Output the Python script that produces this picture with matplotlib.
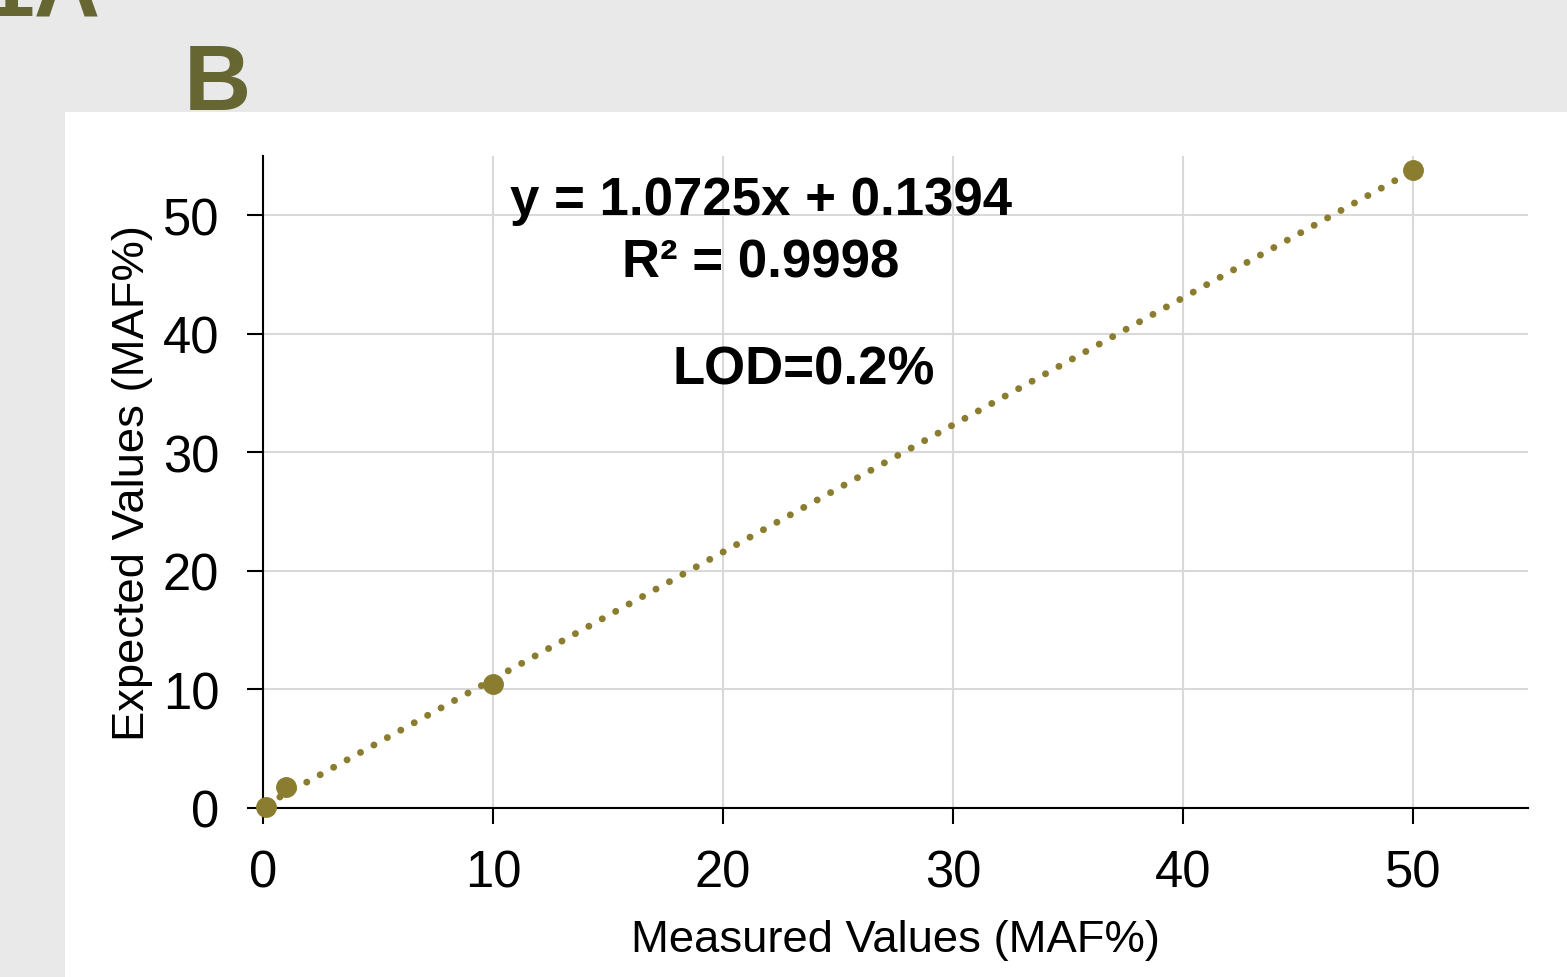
#!/usr/bin/env python3
"""Measured vs expected MAF% with linear trendline (panel B)."""

import matplotlib
matplotlib.use("Agg")
import matplotlib.pyplot as plt
import matplotlib.patches as patches
import numpy as np

# ── Data ────────────────────────────────────────────────────────────────────
measured = [0.15, 1.0, 10.0, 50.0]      # x, MAF%
expected = [0.1, 1.75, 10.5, 53.8]      # y, MAF%
fit_slope = 1.0725
fit_intercept = 0.1394
fit_r2 = 0.9998
lod_label = "LOD=0.2%"
x_ticks = [0, 10, 20, 30, 40, 50]
y_ticks = [0, 10, 20, 30, 40, 50]

# ── Style ───────────────────────────────────────────────────────────────────
plt.rcParams["font.family"] = ["Liberation Sans", "DejaVu Sans"]
OLIVE = "#8a7d2f"
LABEL_OLIVE = "#666633"
GRID = "#d9d9d9"

W, H = 1567, 978
fig = plt.figure(figsize=(W / 100, H / 100), dpi=100)
fig.patch.set_facecolor("#e9e9e9")

# white panel behind the chart
fig.add_artist(patches.Rectangle((65 / W, 0), 1 - 65 / W, 1 - 113 / H,
                                 transform=fig.transFigure,
                                 facecolor="white", edgecolor="none", zorder=0))

# panel labels (the "1A" of the neighbouring panel is cut at the top edge)
fig.text(100 / W, 1 - 15 / H, "1A", ha="right", va="baseline",
         fontsize=66, fontweight="bold", color=LABEL_OLIVE)
fig.text(184 / W, 1 - 110 / H, "B", ha="left", va="baseline",
         fontsize=67, fontweight="bold", color=LABEL_OLIVE)

ax = fig.add_axes([263 / W, 1 - 809 / H, (1528 - 263) / W, (809 - 157) / H])
ax.set_facecolor("none")

# ── Plot ────────────────────────────────────────────────────────────────────
xs = np.array([min(measured), max(measured)])
ax.plot(xs, fit_slope * xs + fit_intercept, color=OLIVE, lw=5,
        linestyle=(0, (0.01, 2.2)), dash_capstyle="round", zorder=3)
ax.plot(measured, expected, "o", color=OLIVE, ms=14, zorder=4,
        clip_on=False)

ax.set_xlim(0, 55)
ax.set_ylim(0, 55)
ax.set_xticks(x_ticks)
ax.set_yticks(y_ticks)
ax.grid(True, color=GRID, lw=1.5)
ax.set_axisbelow(True)

for side in ("top", "right"):
    ax.spines[side].set_visible(False)
for side in ("left", "bottom"):
    ax.spines[side].set_linewidth(1.5)
ax.tick_params(axis="both", length=11.5, width=1.5, labelsize=36.5)
ax.tick_params(axis="x", pad=18)
ax.tick_params(axis="y", pad=20)

ax.set_xlabel("Measured Values (MAF%)", fontsize=32.7, labelpad=15)
ax.set_ylabel("Expected Values (MAF%)", fontsize=32.7, labelpad=7)

# equation annotation
ax.text((761 - 263) / (1528 - 263), (809 - 215) / (809 - 157),
        f"y = {fit_slope}x + {fit_intercept}", transform=ax.transAxes,
        ha="center", va="baseline", fontsize=38, fontweight="bold")
ax.text((761 - 263) / (1528 - 263), (809 - 277) / (809 - 157),
        f"R² = {fit_r2}", transform=ax.transAxes,
        ha="center", va="baseline", fontsize=38, fontweight="bold")
ax.text((804 - 263) / (1528 - 263), (809 - 385) / (809 - 157),
        lod_label, transform=ax.transAxes,
        ha="center", va="baseline", fontsize=38, fontweight="bold")

plt.savefig("out.png", dpi=100, facecolor=fig.get_facecolor())
